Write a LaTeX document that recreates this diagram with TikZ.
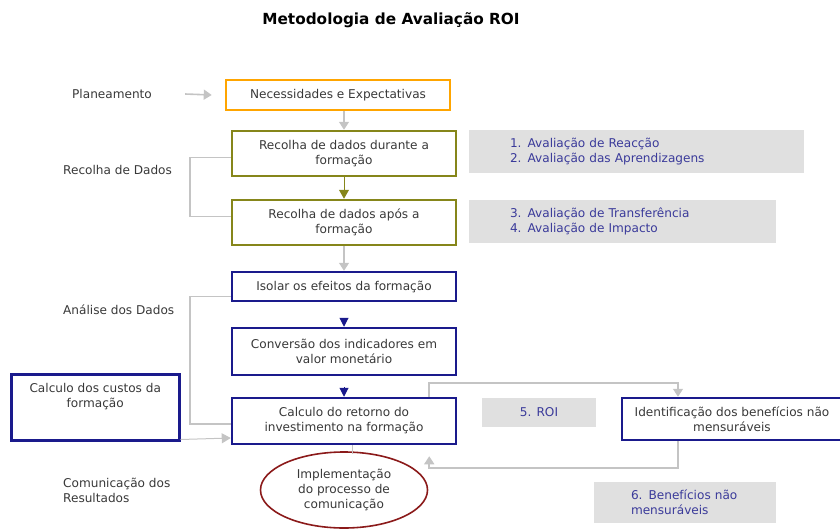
\documentclass[tikz,border=0pt]{standalone}
\usepackage{fontspec}
\setmainfont{DejaVu Sans}
\usepackage{xcolor}
\usetikzlibrary{shapes.geometric,arrows.meta}
\definecolor{roiOrange}{HTML}{FFA500}
\definecolor{roiOlive}{HTML}{86861A}
\definecolor{roiNavy}{HTML}{1A1A8C}
\definecolor{roiRed}{HTML}{8B1A1A}
\definecolor{roiFundo}{HTML}{E0E0E0}
\definecolor{roiLinha}{HTML}{C4C4C4}
\definecolor{roiTexto}{HTML}{383838}
\definecolor{roiAzul}{HTML}{3A3A9A}
\newcommand*{\roiFonte}{\fontsize{12.1}{15}\selectfont}
\tikzset{
	passo/.style={draw, line width=2.5pt, minimum width=224pt, align=center, text=roiTexto, font=\roiFonte, inner sep=2pt},
	etapa/.style={anchor=west, inner sep=0pt, align=left, text=roiTexto, font=\roiFonte},
	nota/.style={fill=roiFundo, text=roiAzul, font=\roiFonte, align=left, inner xsep=41pt},
	setacinza/.style={draw=roiLinha, line width=1.6pt, -{Triangle[width=10pt,length=8pt]}},
	ligacao/.style={draw=roiLinha, line width=1.6pt},
}
\begin{document}
\begin{tikzpicture}[x=1pt,y=-1pt]
		\useasboundingbox (0,0) rectangle (840,530);
		\node (titulo) at (391,20) {\fontsize{15.3}{18}\selectfont\bfseries Metodologia de Avaliação ROI};
		% etapas
		\node[etapa] (plan) at (72,94) {Planeamento};
		\node[etapa] (recolha) at (63,170) {Recolha de Dados};
		\node[etapa] (analise) at (63,310) {Análise dos Dados};
		\node[etapa] (comunic) at (63,490) {Comunicação dos\\Resultados};
		% caixas
		\node[passo, draw=roiOrange, minimum height=30pt] (necess) at (338,95) {Necessidades e Expectativas};
		\node[passo, draw=roiOlive, minimum height=45pt] (durante) at (344,153.5) {Recolha de dados durante a\\formação};
		\node[passo, draw=roiOlive, minimum height=45pt] (apos) at (344,222.5) {Recolha de dados após a\\formação};
		\node[passo, draw=roiNavy, minimum height=29pt] (isolar) at (344,286.5) {Isolar os efeitos da formação};
		\node[passo, draw=roiNavy, minimum height=47pt] (conv) at (344,351.5) {Conversão dos indicadores em\\valor monetário};
		\node[passo, draw=roiNavy, minimum height=46pt] (retorno) at (344,421) {Calculo do retorno do\\investimento na formação};
		\node[passo, draw=roiNavy, minimum width=168pt, minimum height=66pt, anchor=north west, align=center] (custos) at (10,373) {\raisebox{0pt}{}\\[-7pt]Calculo dos custos da\\formação\\[7pt]};
		\node[passo, draw=roiNavy, minimum width=220pt, minimum height=42pt] (ident) at (732,419) {Identificação dos benefícios não\\mensuráveis};
		\node[ellipse, draw=roiRed, line width=1.6pt, minimum width=167pt, minimum height=76pt, inner sep=0pt, align=center, text=roiTexto, font=\roiFonte] (impl) at (344,490) {Implementação\\do processo de\\comunicação};
		% notas
		\node[nota, text width=253pt, minimum height=43pt] (nota1) at (636.5,151.5) {1. Avaliação de Reacção\\2. Avaliação das Aprendizagens};
		\node[nota, text width=225pt, minimum height=43pt] (nota2) at (622.5,221.5) {3. Avaliação de Transferência\\4. Avaliação de Impacto};
		\node[nota, inner xsep=0pt, minimum width=114pt, minimum height=29pt, align=center] (roi) at (539,412.5) {5. ROI};
		\node[nota, inner xsep=37pt, text width=108pt, minimum height=41pt] (benef) at (685,502.5) {6. Benefícios não\\mensuráveis};
		% ligacoes
		\draw[setacinza] ([xshift=33pt]plan.east) -- ([xshift=-13pt]necess.west);
		\draw[setacinza] (durante.north |- necess.south) -- (durante.north);
		\draw[draw=roiOlive, line width=1pt, -{Triangle[width=10pt,length=9pt]}] (durante) -- (apos);
		\draw[setacinza] (apos) -- (isolar);
		\draw[draw=roiNavy, line width=1pt, -{Triangle[width=9pt,length=9pt]}, shorten <=17pt] (isolar) -- (conv);
		\draw[draw=roiNavy, line width=1pt, -{Triangle[width=9pt,length=9pt]}, shorten <=11pt] (conv) -- (retorno);
		\draw[ligacao] ([yshift=-4pt]durante.west) -- ++(-41,0) |- ([yshift=6pt]apos.west);
		\draw[ligacao] ([yshift=-10pt]isolar.west) -- ++(-41,0) |- ([yshift=-3pt]retorno.west);
		\draw[draw=roiLinha, line width=1pt, -{Triangle[width=10pt,length=9pt]}] ([yshift=2pt]custos.south east) -- ([yshift=-17pt]retorno.west);
		\draw[setacinza] ([xshift=-28pt]retorno.north east) -- ++(0,-14) -| ([xshift=-54pt]ident.north);
		\draw[setacinza] ([xshift=-54pt]ident.south) -- ++(0,27) -| ([xshift=-28pt,yshift=-11pt]retorno.south east);
		\draw[draw=roiLinha, line width=0.8pt] ([xshift=8pt]retorno.south) -- ([xshift=8pt,yshift=-3pt]retorno.south |- impl.north);
	\end{tikzpicture}
\end{document}
